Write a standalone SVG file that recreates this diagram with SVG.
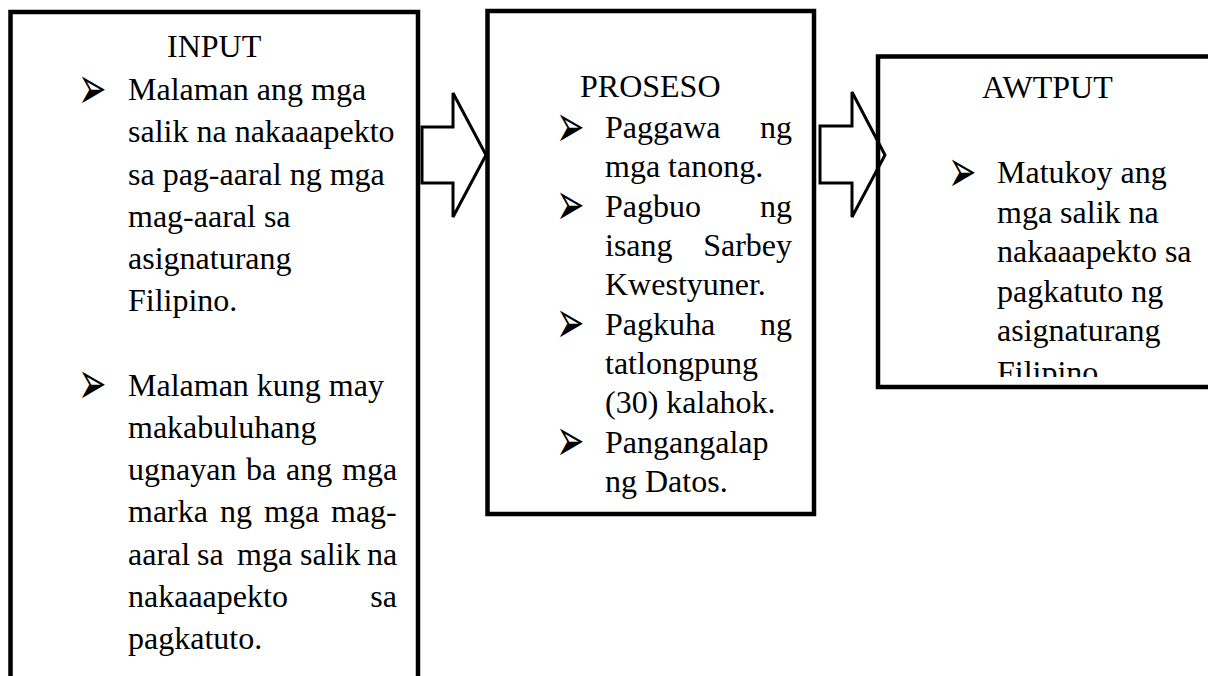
<svg xmlns="http://www.w3.org/2000/svg" width="1208" height="676" viewBox="0 0 1208 676">
<style>
.box{fill:none;stroke:#000;stroke-width:4.5}
.arrow{fill:none;stroke:#000;stroke-width:3;stroke-linejoin:miter}
.t{font-family:"Liberation Serif","Times New Roman",serif;font-size:32px;fill:#000}
.b{font-family:"DejaVu Sans",sans-serif;font-size:34px;fill:#000}
</style>
<defs>
<clipPath id="clipOut"><rect x="880" y="59" width="330" height="318"/></clipPath>
</defs>
<rect width="1208" height="676" fill="#fff"/>
<g id="input">
<path class="box" d="M10.5,680 V12 H418 V680"/>
<text class="t" x="167" y="57">INPUT</text>
<text class="b" transform="translate(78,108.5) scale(1,1.8)">➢</text>
<text class="t" x="128" y="100">Malaman ang mga</text>
<text class="t" x="128" y="142.2">salik na nakaaapekto</text>
<text class="t" x="128" y="184.5">sa pag-aaral ng mga</text>
<text class="t" x="128" y="226.7">mag-aaral sa</text>
<text class="t" x="128" y="268.9">asignaturang</text>
<text class="t" x="128" y="311.2">Filipino.</text>
<text class="b" transform="translate(78,404.1) scale(1,1.8)">➢</text>
<text class="t" x="128" y="395.6">Malaman kung may</text>
<text class="t" x="128" y="437.8">makabuluhang</text>
<text class="t" y="480.1"><tspan x="128">ugnayan</tspan> <tspan x="246">ba</tspan> <tspan x="286">ang</tspan> <tspan x="342">mga</tspan></text>
<text class="t" y="522.3"><tspan x="128">marka</tspan> <tspan x="220">ng</tspan> <tspan x="264">mga</tspan> <tspan x="331">mag-</tspan></text>
<text class="t" y="564.5"><tspan x="128">aaral</tspan> <tspan x="197">sa</tspan> <tspan x="237">mga</tspan> <tspan x="300">salik</tspan> <tspan x="367">na</tspan></text>
<text class="t" y="606.8"><tspan x="128">nakaaapekto</tspan> <tspan x="370.3">sa</tspan></text>
<text class="t" x="128" y="649">pagkatuto.</text>
</g>
<g id="proseso">
<rect class="box" x="487.5" y="11" width="326.5" height="503"/>
<text class="t" x="580" y="97">PROSESO</text>
<text class="b" transform="translate(556,146.5) scale(1,1.8)">➢</text>
<text class="t" y="138"><tspan x="605">Paggawa</tspan> <tspan x="792" text-anchor="end">ng</tspan></text>
<text class="t" x="605" y="177.3">mga tanong.</text>
<text class="b" transform="translate(556,225.2) scale(1,1.8)">➢</text>
<text class="t" y="216.7"><tspan x="605">Pagbuo</tspan> <tspan x="792" text-anchor="end">ng</tspan></text>
<text class="t" y="256"><tspan x="605">isang</tspan> <tspan x="792" text-anchor="end">Sarbey</tspan></text>
<text class="t" x="605" y="295.3">Kwestyuner.</text>
<text class="b" transform="translate(556,343.2) scale(1,1.8)">➢</text>
<text class="t" y="334.7"><tspan x="605">Pagkuha</tspan> <tspan x="792" text-anchor="end">ng</tspan></text>
<text class="t" x="605" y="374">tatlongpung</text>
<text class="t" x="605" y="413.3">(30) kalahok.</text>
<text class="b" transform="translate(556,461.2) scale(1,1.8)">➢</text>
<text class="t" x="605" y="452.7">Pangangalap</text>
<text class="t" x="605" y="492">ng Datos.</text>
</g>
<g id="awtput">
<rect class="box" x="878" y="56.5" width="340" height="330.5"/>
<text class="t" x="982" y="98">AWTPUT</text>
<g clip-path="url(#clipOut)">
<text class="b" transform="translate(948,191.5) scale(1,1.8)">➢</text>
<text class="t" x="997" y="183">Matukoy ang</text>
<text class="t" x="997" y="222.5">mga salik na</text>
<text class="t" x="997" y="262">nakaaapekto sa</text>
<text class="t" x="997" y="301.5">pagkatuto ng</text>
<text class="t" x="997" y="341">asignaturang</text>
<text class="t" x="997" y="383">Filipino.</text>
</g>
</g>
<g id="connectors">
<polygon class="arrow" points="422,127 453,127 453,93 486,155 453,217 453,183 422,183"/>
<polygon class="arrow" points="820,126 852,126 852,92 885,155 852,217 852,183 820,183"/>
</g>
</svg>
